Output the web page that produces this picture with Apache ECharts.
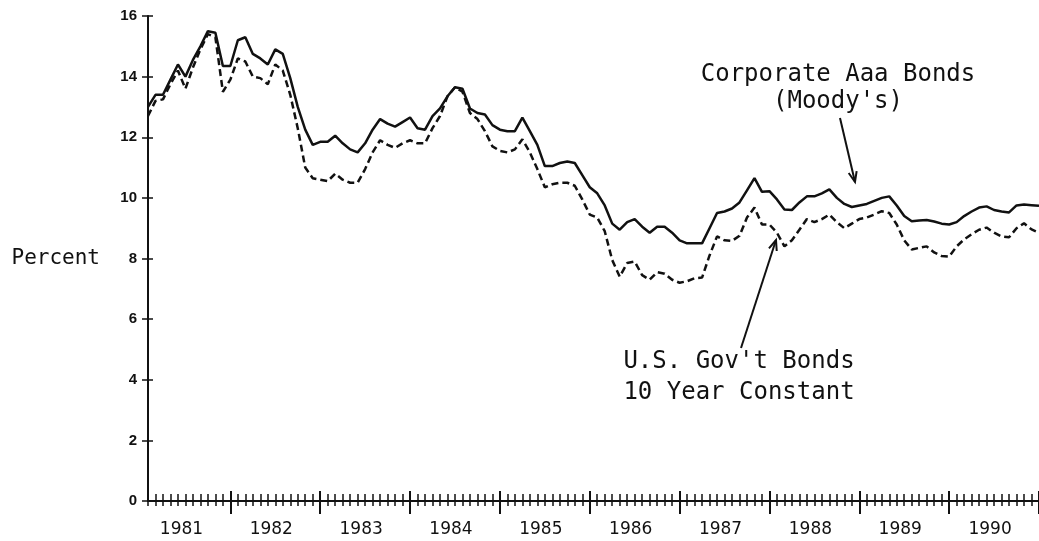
<!DOCTYPE html>
<html>
<head>
<meta charset="utf-8">
<script src="https://cdn.jsdelivr.net/npm/echarts@6/dist/echarts.min.js"></script>
<style>
  html, body { margin: 0; padding: 0; background: #fff; }
  #bonds { width: 1039px; height: 541px; }
</style>
</head>
<body>
<div id="bonds"></div>
<script>
// years on the axis, one point per month (Jan 1981 .. Dec 1990)
var years = ['1981', '1982', '1983', '1984', '1985', '1986', '1987', '1988', '1989', '1990']
var monthNames = ['01', '02', '03', '04', '05', '06', '07', '08', '09', '10', '11', '12']

// Corporate Aaa Bonds (Moody's), percent
var aaa1981 = [13.0, 13.4, 13.4, 13.9, 14.4, 14.0, 14.55, 15.0, 15.5, 15.45, 14.35, 14.35]
var aaa1982 = [15.2, 15.3, 14.75, 14.6, 14.4, 14.9, 14.75, 13.95, 13.0, 12.25, 11.75, 11.85]
var aaa1983 = [11.85, 12.05, 11.8, 11.6, 11.5, 11.8, 12.25, 12.6, 12.45, 12.35, 12.5, 12.65]
var aaa1984 = [12.3, 12.25, 12.7, 12.95, 13.35, 13.65, 13.6, 12.95, 12.8, 12.75, 12.4, 12.25]
var aaa1985 = [12.2, 12.2, 12.65, 12.2, 11.75, 11.05, 11.05, 11.15, 11.2, 11.15, 10.75, 10.35]
var aaa1986 = [10.15, 9.75, 9.15, 8.95, 9.2, 9.3, 9.05, 8.85, 9.05, 9.05, 8.85, 8.6]
var aaa1987 = [8.5, 8.5, 8.5, 9.0, 9.5, 9.55, 9.65, 9.85, 10.25, 10.65, 10.2, 10.22]
var aaa1988 = [9.95, 9.62, 9.6, 9.85, 10.05, 10.05, 10.15, 10.28, 10.0, 9.8, 9.7, 9.75]
var aaa1989 = [9.8, 9.9, 10.0, 10.05, 9.75, 9.4, 9.23, 9.25, 9.27, 9.22, 9.15, 9.12]
var aaa1990 = [9.2, 9.4, 9.55, 9.68, 9.72, 9.6, 9.55, 9.52, 9.75, 9.78, 9.76, 9.74]

// U.S. Gov't Bonds, 10 year constant maturity, percent
var gov1981 = [12.7, 13.2, 13.25, 13.75, 14.2, 13.6, 14.3, 14.9, 15.4, 15.3, 13.5, 13.9]
var gov1982 = [14.6, 14.5, 14.0, 13.95, 13.75, 14.4, 14.2, 13.4, 12.3, 11.0, 10.65, 10.6]
var gov1983 = [10.55, 10.8, 10.6, 10.5, 10.5, 10.95, 11.5, 11.9, 11.75, 11.65, 11.8, 11.9]
var gov1984 = [11.8, 11.8, 12.3, 12.7, 13.35, 13.65, 13.5, 12.8, 12.6, 12.2, 11.7, 11.55]
var gov1985 = [11.5, 11.6, 11.93, 11.5, 10.95, 10.35, 10.45, 10.5, 10.5, 10.4, 9.95, 9.45]
var gov1986 = [9.35, 8.9, 7.95, 7.4, 7.85, 7.9, 7.45, 7.3, 7.55, 7.5, 7.3, 7.2]
var gov1987 = [7.25, 7.35, 7.37, 8.1, 8.73, 8.6, 8.58, 8.75, 9.35, 9.68, 9.12, 9.12]
var gov1988 = [8.85, 8.4, 8.6, 8.95, 9.3, 9.2, 9.3, 9.45, 9.2, 9.0, 9.15, 9.3]
var gov1989 = [9.35, 9.45, 9.56, 9.5, 9.12, 8.6, 8.3, 8.35, 8.4, 8.2, 8.08, 8.06]
var gov1990 = [8.4, 8.63, 8.8, 8.95, 9.02, 8.85, 8.73, 8.7, 9.0, 9.16, 8.96, 8.85]

var months = []
years.forEach(function(y) {
  monthNames.forEach(function(m) { months.push(y + '-' + m) })
})
var aaa = [].concat(aaa1981, aaa1982, aaa1983, aaa1984, aaa1985, aaa1986, aaa1987, aaa1988, aaa1989, aaa1990)
var gov = [].concat(gov1981, gov1982, gov1983, gov1984, gov1985, gov1986, gov1987, gov1988, gov1989, gov1990)

var ink = '#111'
var plotFont = '"DejaVu Sans Mono", "Liberation Mono", monospace'

// open V arrow head drawn with two short strokes
function arrow(x1, y1, x2, y2) {
  var a = Math.atan2(y2 - y1, x2 - x1)
  var h = 11
  var s = 0.38
  return {
    type: 'group',
    children: [
      { type: 'line', shape: { x1: x1, y1: y1, x2: x2, y2: y2 }, style: { stroke: ink, lineWidth: 2 } },
      { type: 'polyline', shape: { points: [
        [x2 - h * Math.cos(a - s), y2 - h * Math.sin(a - s)],
        [x2, y2],
        [x2 - h * Math.cos(a + s), y2 - h * Math.sin(a + s)]
      ] }, style: { stroke: ink, lineWidth: 2, fill: null } }
    ]
  }
}

function label(text, x, y) {
  return {
    type: 'text', x: x, y: y,
    style: { text: text, font: '24px ' + plotFont, fill: ink, align: 'center', verticalAlign: 'middle' }
  }
}

var chart = echarts.init(document.getElementById('bonds'))
chart.setOption({
  animation: false,
  backgroundColor: '#ffffff',
  grid: {
    left: 148,
    right: -9,
    top: 16,
    bottom: 40
  },
  xAxis: [
    {
      type: 'category',
      data: months,
      boundaryGap: false,
      axisLine: { show: true, lineStyle: { color: ink, width: 2 } },
      axisTick: { show: true, interval: 0, length: 5, lineStyle: { color: ink, width: 1.5 } },
      axisLabel: {
        interval: function(i) { return i % 12 === 4 },
        formatter: function(v) { return v.slice(0, 4) },
        color: ink,
        fontSize: 17,
        fontFamily: '"DejaVu Sans", sans-serif',
        margin: 20,
        padding: [0, 0, 0, 7]
      },
      splitLine: { show: false }
    },
    {
      // minor ticks above the axis line
      type: 'category',
      data: months,
      boundaryGap: false,
      position: 'bottom',
      axisLine: { show: false },
      axisTick: { show: true, inside: true, interval: 0, length: 7, lineStyle: { color: ink, width: 1.5 } },
      axisLabel: { show: false },
      splitLine: { show: false }
    },
    {
      // year marks, below
      type: 'category',
      data: months,
      boundaryGap: false,
      position: 'bottom',
      axisLine: { show: false },
      axisTick: { show: true, interval: function(i) { return i % 12 === 11 }, length: 13, lineStyle: { color: ink, width: 2 } },
      axisLabel: { show: false },
      splitLine: { show: false }
    },
    {
      // year marks, above
      type: 'category',
      data: months,
      boundaryGap: false,
      position: 'bottom',
      axisLine: { show: false },
      axisTick: { show: true, inside: true, interval: function(i) { return i % 12 === 11 }, length: 10, lineStyle: { color: ink, width: 2 } },
      axisLabel: { show: false },
      splitLine: { show: false }
    }
  ],
  yAxis: [
    {
      type: 'value',
      min: 0,
      max: 16,
      interval: 2,
      name: 'Percent',
      nameLocation: 'middle',
      nameRotate: 0,
      nameGap: 48,
      nameTextStyle: { color: ink, fontSize: 21, fontFamily: plotFont, align: 'right' },
      axisLine: { show: true, lineStyle: { color: ink, width: 2 } },
      axisTick: { show: true, length: 6, lineStyle: { color: ink, width: 1.5 } },
      axisLabel: { color: ink, fontSize: 15, fontWeight: 'bold', fontFamily: '"Liberation Sans", sans-serif', margin: 11 },
      splitLine: { show: false }
    },
    {
      type: 'value',
      min: 0,
      max: 16,
      interval: 2,
      position: 'left',
      axisLine: { show: false },
      axisTick: { show: true, inside: true, length: 5, lineStyle: { color: ink, width: 1.5 } },
      axisLabel: { show: false },
      splitLine: { show: false }
    }
  ],
  series: [
    {
      name: "Corporate Aaa Bonds (Moody's)",
      type: 'line',
      xAxisIndex: 0,
      yAxisIndex: 0,
      showSymbol: false,
      smooth: false,
      lineStyle: { color: ink, width: 2.5 },
      data: aaa
    },
    {
      name: "U.S. Gov't Bonds 10 Year Constant",
      type: 'line',
      xAxisIndex: 0,
      yAxisIndex: 0,
      showSymbol: false,
      smooth: false,
      lineStyle: { color: ink, width: 2.5, type: [7, 4] },
      data: gov
    }
  ],
  graphic: [
    label('Corporate Aaa Bonds', 838, 75),
    label("(Moody's)", 838, 102),
    arrow(840, 118, 855, 182),
    label("U.S. Gov't Bonds", 739, 362),
    label('10 Year Constant', 739, 393),
    arrow(741, 348, 776, 240)
  ]
})
</script>
</body>
</html>
